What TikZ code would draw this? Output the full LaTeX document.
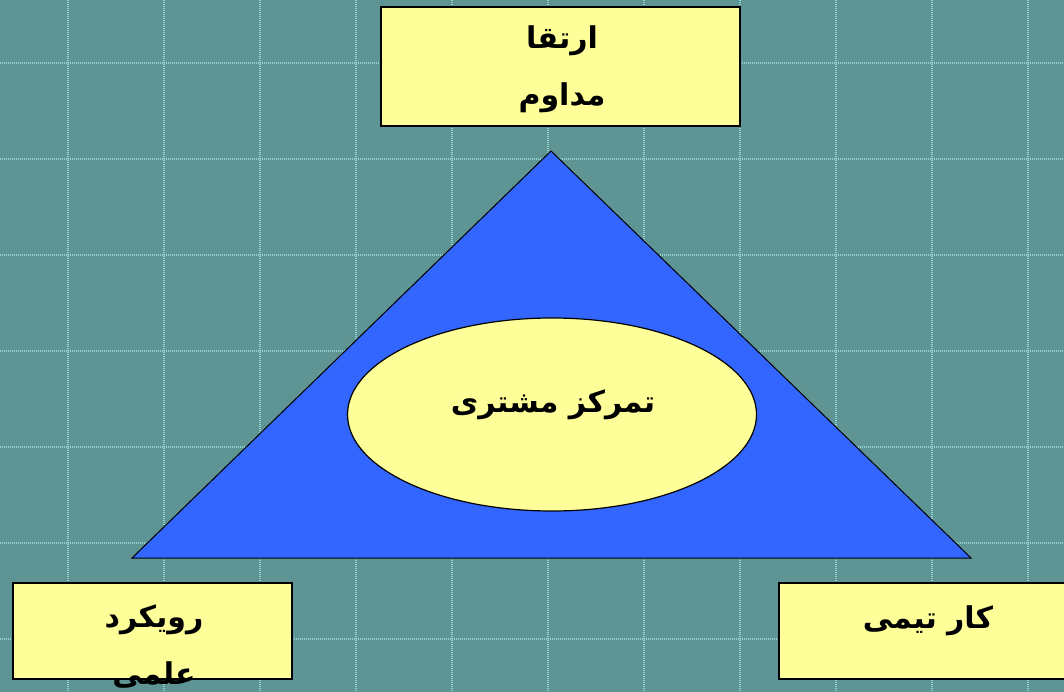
\documentclass[tikz,border=0pt]{standalone}
\usepackage{fontspec}
\usepackage{tikz}
\usetikzlibrary{shapes.geometric}
\TeXXeTstate=1
\newfontfamily\arabicfont[Script=Arabic]{DejaVu Sans}
\definecolor{slatebg}{HTML}{5F9494}
\definecolor{gridcyan}{HTML}{92D2D2}
\definecolor{paleyellow}{HTML}{FFFF99}
\definecolor{royalblue}{HTML}{3366FF}

\begin{document}
\begin{tikzpicture}[x=1pt,y=-1pt,
  card/.style={draw=black, line width=2pt, fill=paleyellow, inner sep=0pt},
  label/.style={font=\arabicfont\bfseries\fontsize{30}{57}\selectfont, align=center, inner sep=0pt}]
\useasboundingbox (0,0) rectangle (1064,692);
\clip (0,0) rectangle (1064,692);
\fill[slatebg] (0,0) rectangle (1064,692);
% dashed grid
\foreach \x in {68,164,...,1028} \draw[gridcyan, line width=1.2pt, dash pattern=on 1pt off 1pt] (\x,0) -- (\x,692);
\foreach \y in {63,159,...,639} \draw[gridcyan, line width=1.2pt, dash pattern=on 1pt off 1pt] (0,\y) -- (1064,\y);

% triangle
\coordinate (apex) at (551,151);
\coordinate (baseL) at (132,558);
\coordinate (baseR) at (971,558);
\draw[fill=royalblue, line width=1pt] (apex) -- (baseL) -- (baseR) -- cycle;
\node[ellipse, draw=black, line width=1.2pt, fill=paleyellow, minimum width=409pt, minimum height=193pt, inner sep=0pt] (focus) at (552,414.5) {};
\node[label] (focustxt) at (553,405) {\beginR تمرکز مشتری\endR};

% boxes
\node[card, minimum width=359pt, minimum height=119pt] (improve) at (560.5,66.5) {};
\node[label] (improvetxt) at (562,69) {\beginR ارتقا\endR\\\beginR مداوم\endR};
\node[card, minimum width=279pt, minimum height=96pt] (science) at (152,631) {};
\node[label] (sciencetxt) at (154,647) {\beginR رویکرد\endR\\\beginR علمی\endR};
\node[card, minimum width=298pt, minimum height=96pt] (team) at (928,631) {};
\node[label] (teamtxt) at (928,621) {\beginR کار تیمی\endR};
\end{tikzpicture}
\end{document}
